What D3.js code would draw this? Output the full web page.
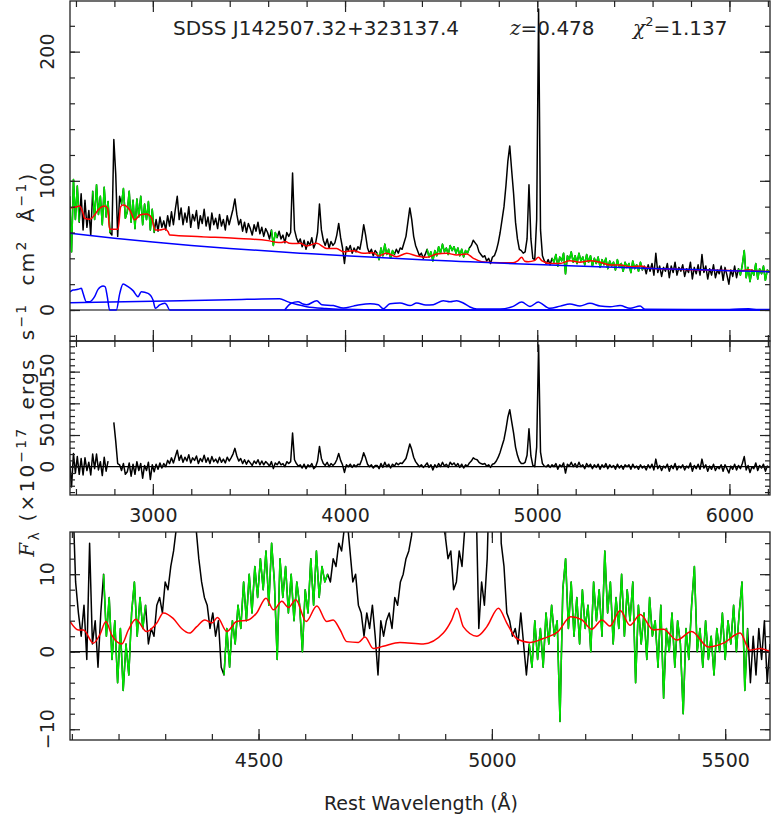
<!DOCTYPE html>
<html><head><meta charset="utf-8">
<script src="https://cdn.jsdelivr.net/npm/d3@7"></script>
<style>
body{margin:0;background:#fff}
svg{display:block}
text{font-family:"DejaVu Sans",sans-serif;fill:#222}
</style>
</head><body>
<svg id="c" width="774" height="817"></svg>
<script>
// ---------------- DATA ----------------
const objName = "SDSS J142507.32+323137.4";
const zText = "=0.478";
const chiText = "=1.137";

// observed spectrum (top panel), grid start / step in Angstrom
const specStart = 2567, specStep = 10;
const specFlux = [
88,45,101,70,96,68,90,62,85,64,
77,58,92,70,97,74,88,66,95,72,
84,60,58,132,105,57,88,82,94,71,
76,92,68,85,63,86,72,88,66,82,
70,84,62,78,60,70,61,72,64,69,
62,73,65,76,66,78,88,70,79,66,
75,68,80,64,74,69,77,63,73,67,
78,65,72,62,75,66,71,63,74,65,
70,62,73,66,72,78,86,74,66,70,
61,68,60,67,63,58,66,61,68,59,
64,57,63,60,55,62,50,60,56,61,
55,58,52,60,57,60,106,62,56,52,
55,49,54,47,53,50,56,48,52,60,
82,62,54,50,55,48,53,50,52,58,
67,56,48,36,49,46,50,44,48,45,
49,47,55,66,58,48,44,47,42,46,
44,39,48,42,51,43,47,40,46,43,
47,44,48,47,52,57,68,79,70,57,
50,46,42,44,40,43,47,41,45,38,
46,42,49,44,51,45,48,43,50,46,
49,44,48,42,47,41,46,44,48,50,
54,52,50,45,43,41,42,38,40,36,
41,42,46,52,60,70,80,96,115,127,
108,90,68,55,47,46,44,45,55,97,
55,40,39,70,233,62,42,38,36,39,
35,40,37,43,34,41,38,44,28,42,
39,45,37,42,36,44,38,41,35,43,
37,42,34,40,36,41,33,39,35,40,
32,38,34,37,31,39,33,36,30,37,
33,36,29,38,32,35,30,37,31,34,
28,35,30,36,27,44,29,34,26,33,
30,36,25,34,29,37,27,33,30,35,
26,32,29,37,24,33,28,35,27,43,
29,34,24,32,27,35,25,31,28,34,
23,33,27,20,31,26,34,25,32,27,
35,46,25,33,22,31,27,36,24,32,
28,34,23,31,29];

// emission-line residual (middle panel), same grid
const residFlux = [
8,-32,21,-10,16,-12,13,-13,14,-6,
7,-13,20,-3,20,-5,8,-14,15,-7,
9,null,null,70,40,5,3,-6,5,-12,
-8,6,-15,4,-12,8,-6,5,-18,2,
-6,7,-20,3,-8,4,-4,6,-2,5,
0,10,5,14,6,16,26,10,18,7,
15,9,19,6,14,10,17,5,13,8,
18,7,14,5,16,8,12,6,15,7,
12,6,15,9,14,20,29,17,9,13,
5,11,4,10,6,2,9,5,11,3,
9,3,8,5,1,8,-3,6,3,8,
3,5,0,8,5,8,53,11,5,1,
3,-2,4,-3,3,0,5,-3,0,9,
32,13,5,2,7,0,5,2,5,11,
21,10,3,-9,3,0,4,-1,3,0,
4,3,11,22,14,4,0,3,-2,2,
2,-3,5,-1,7,0,4,-2,4,1,
6,3,6,5,9,13,24,36,27,15,
8,4,0,3,-1,2,6,-1,3,-5,
3,-1,5,0,7,1,4,-1,7,3,
6,1,5,-1,4,-2,3,1,6,9,
14,12,11,7,5,4,5,1,3,-1,
4,5,9,15,23,33,43,59,78,90,
71,53,31,18,9,5,5,7,18,60,
17,2,0,31,192,23,5,1,0,3,
-1,3,0,5,-4,3,0,6,-10,4,
1,7,0,5,-1,7,0,3,-3,5,
0,4,-3,3,-1,4,-4,3,-1,5,
-3,3,-1,2,-4,4,-2,2,-4,3,
0,3,-4,4,-2,1,-4,3,-2,1,
-5,3,-2,4,-5,12,-3,2,-6,1,
-2,4,-7,2,-3,5,-5,1,-2,3,
-5,1,-2,6,-7,2,-3,4,-4,12,
-2,3,-7,1,-4,4,-6,0,-3,3,
-7,3,-3,-10,1,-4,4,-5,2,-3,
5,16,-5,2,-9,0,-3,6,-6,2,
-2,4,-7,1,-1];

// continuum-subtracted spectrum (bottom panel)
const zoomStart = 4096, zoomStep = 6;
const zoomFlux = [
18,20,9,5,2,6,-1,14,1,4,
-2,5,10,2,7,-1,4,-4,3,-5,
1,-3,5,9,2,7,3,6,1,3,
2,6,7,5,9,8,11,13,16,24,
36,39,30,24,19,16,12,9,7,6,
3,5,2,4,-2,-3,3,-2,4,1,
6,3,9,4,10,5,11,7,12,8,
13,6,14,9,-1,12,7,11,5,10,
4,9,6,0,8,5,12,6,13,7,
11,9,10,9,12,11,14,13,16,17,
13,9,10,6,5,2,5,3,6,2,
-3,4,2,4,5,3,7,6,9,10,
12,13,15,20,30,45,70,90,85,60,
45,30,22,17,15,12,13,8,9,13,
11,16,25,50,60,20,3,9,6,12,
25,120,190,40,14,11,5,4,2,3,
1,5,1,-3,1,-2,4,-1,3,-2,
5,1,6,2,4,-9,8,12,3,9,
2,7,1,8,3,6,0,9,4,8,
2,13,5,9,1,7,3,10,2,8,
4,9,-4,6,1,5,-1,7,2,4,
-2,6,-6,3,0,5,-2,4,1,-8,
3,-1,6,11,0,3,-2,4,-1,2,
-3,3,0,5,-1,4,1,6,0,5,
9,-5,3,-4,2,-3,3,-1,4,-4,
1];

// fitting windows (drawn in green)
const topWindows = [[2560,2620],[2685,2778],[2835,3008],[3615,3648],[4165,4261],[4423,4651],[5076,5551],[6038,6215]];
const zoomWindows = [[4165,4261],[4423,4651],[5076,5551]];

// total model (red, top)
const modelWave = [2569,2593,2619,2637,2645,2671,2697,2715,2749,2765,2775,2819,2833,2845,2880,2906,2932,2967,2992,3013,3036,3062,3079,3088,3252,3426,3599,3640,3668,3690,3710,3740,3766,3800,3853,3904,3956,3991,4043,4095,4147,4173,4216,4268,4321,4373,4425,4477,4529,4581,4633,4668,4711,4806,4875,4898,4919,4935,4953,4985,5006,5025,5066,5118,5170,5222,5274,5327,5379,5431,5483,5535,5587,5700,5800,5900,6000,6060,6100,6140,6211];
const modelFlux = [79,79.5,80.5,74.8,71,70.2,73.5,77.4,80.5,78.7,62.5,62.5,80,81.3,77.4,69.7,73.5,74.3,71.7,61.9,61.9,62.7,60.6,58,56.7,55.5,53.7,52.5,52.2,53,51.7,51.5,51.6,49.6,51.6,47.7,47.7,45.1,45.9,43.9,44.4,41.8,43.9,41.3,43.9,41.8,40.8,43.3,43.9,42.6,43.3,40,37.4,36.6,36.6,38,40.8,37.8,37.4,38.2,40.8,38,36,36,38.1,36.9,38.1,36.9,34.8,34.8,33.5,34,32.3,31.6,31.1,30.8,30.5,30.3,31.1,30.1,29.8];

// power-law continuum (blue)
const plWave = [2569,2800,3000,3200,3400,3600,3800,4000,4200,4400,4600,4800,5000,5200,5400,5600,5800,6000,6212];
const plFlux = [59.5,55.6,52.6,50.0,47.7,45.6,43.7,41.9,40.4,38.9,37.6,36.3,35.2,34.1,33.1,32.1,31.3,30.4,29.6];

// Balmer continuum (blue)
const balWave = [2569,3000,3400,3660,3700,3750,3800,3900,4000,4100,4200,6211];
const balFlux = [5.6,6.8,7.9,8.7,6.5,4.2,2.6,1.2,0.5,0.1,0,0];

// UV Fe II (blue)
const feUVWave = [2569,2585,2611,2628,2637,2654,2671,2697,2715,2741,2752,2763,2775,2810,2828,2845,2871,2897,2923,2940,2975,3001,3013,3036,3062,3070,3088,6211];
const feUVFlux = [14,15.5,16,16.8,12.9,6.4,6.4,10.3,16,18.6,18,10.3,0,0,12.9,20.1,18,15,10.3,14.2,12.9,7.7,1.3,3.9,5.2,4.5,0,0];

// optical Fe II (blue, top)
const feOptWave = [3686,3720,3755,3781,3800,3853,3879,3939,3991,4043,4078,4130,4173,4199,4234,4286,4338,4373,4420,4459,4511,4546,4581,4615,4650,4685,4806,4875,4919,4962,5006,5014,5066,5120,5170,5222,5274,5327,5379,5431,5483,5535,5561,5800,6000,6100,6150,6211];
const feOptFlux = [0,5.2,6.4,4.6,4.0,7.2,4.1,3.4,1.5,3,4.1,4.9,4.1,1.0,4.9,5.4,3.4,5.4,3.8,4.1,7.2,6.4,7.2,5.4,2.3,0.8,0.8,2.8,6.1,2.8,6.1,5.7,1.3,3,4.6,3.1,5.2,3.1,2.6,3.4,1.3,3.1,0.5,0.3,0.4,1.0,0.3,0.3];

// Fe II model (red, bottom)
const zFeWave = [4096,4114,4125,4146,4160,4173,4185,4207,4221,4237,4260,4282,4296,4317,4335,4352,4367,4385,4400,4412,4432,4453,4478,4496,4516,4532,4550,4564,4580,4602,4625,4646,4660,4675,4689,4714,4728,4746,4767,4803,4853,4896,4914,4925,4939,4968,4989,5014,5032,5053,5082,5110,5142,5169,5193,5214,5236,5253,5275,5296,5318,5346,5368,5396,5428,5464,5496,5532,5553,5575,5596];
const zFeFlux = [3.9,2.8,2.8,1.1,2.2,3.9,2.2,1.0,2.8,4.2,2.6,3.7,5.0,4.3,3.0,2.4,3.2,4.1,3.7,4.4,2.6,3.9,4.1,5.0,6.9,5.4,6.5,5.7,6.7,3.9,5.9,3.9,4.1,2.8,1.3,1.2,1.9,0.4,0.7,1.2,1.0,2.4,4.1,5.6,3.2,2.0,3.2,5.6,3.7,1.7,1.2,1.7,2.6,4.5,4.1,2.9,4.1,3.3,5.3,3.4,4.8,2.8,2.9,1.5,2.6,0.6,1.1,2.4,0.2,0.4,0];

// ticks
const wideMajor = [3000,4000,5000,6000];
const zoomMajor = [4500,5000,5500];
const topYMajor = [0,100,200];
const midYMajor = [0,50,100,150];
const botYMajor = [-10,0,10];

// ---------------- DRAW ----------------
const svg = d3.select("#c");
const L = 70, R = 770;
const P1 = {t:1, b:341}, P2 = {t:341, b:495}, P3 = {t:532, b:740};
const xW = d3.scaleLinear([2569, 6211], [L, R]);
const xZ = d3.scaleLinear([4096, 5596], [L, R]);
const y1 = d3.scaleLinear([-24, 239.2], [P1.b, P1.t]);
const y2 = d3.scaleLinear([-44.6, 198.3], [P2.b, P2.t]);
const y3 = d3.scaleLinear([-11.39, 15.44], [P3.b, P3.t]);

const defs = svg.append("defs");
function clip(id, p){
  defs.append("clipPath").attr("id", id).append("rect")
    .attr("x", L).attr("y", p.t).attr("width", R-L).attr("height", p.b-p.t);
  return "url(#" + id + ")";
}
const c1 = clip("c1", P1), c2 = clip("c2", P2), c3 = clip("c3", P3);

const toPts = (ws, vs) => ws.map((w,i)=>({w, v: vs[i]}));
const gridPts = (start, step, vs) => vs.map((v,i)=>({w: start + i*step, v}));
const inWin = (wins, w) => wins.some(r => w >= r[0] && w <= r[1]);

function drawLine(g, pts, xs, ys, color, width, defined, smooth){
  const ln = d3.line().x(d=>xs(d.w)).y(d=>ys(d.v))
    .defined(d => d.v !== null && (!defined || defined(d)));
  if (smooth) ln.curve(d3.curveMonotoneX);
  g.append("path").attr("d", ln(pts)).attr("fill","none")
    .attr("stroke", color).attr("stroke-width", width).attr("stroke-linejoin","round");
}

const GREEN = "#00e400", RED = "#ff0000", BLUE = "#0000ff";

// ---- Panel 1 ----
const g1 = svg.append("g").attr("clip-path", c1);
const specPts = gridPts(specStart, specStep, specFlux);
drawLine(g1, [{w:2569,v:0},{w:6211,v:0}], xW, y1, "#000", 1.2);
drawLine(g1, toPts(balWave, balFlux), xW, y1, BLUE, 1.5, null, true);
drawLine(g1, toPts(feUVWave, feUVFlux), xW, y1, BLUE, 1.5, null, true);
drawLine(g1, toPts(feOptWave, feOptFlux), xW, y1, BLUE, 1.5, null, true);
drawLine(g1, specPts, xW, y1, "#000", 1.5);
drawLine(g1, specPts, xW, y1, GREEN, 1.5, d => inWin(topWindows, d.w));
drawLine(g1, toPts(modelWave, modelFlux), xW, y1, RED, 1.5, null, true);
drawLine(g1, toPts(plWave, plFlux), xW, y1, BLUE, 1.5, null, true);

// ---- Panel 2 ----
const g2 = svg.append("g").attr("clip-path", c2);
drawLine(g2, [{w:2569,v:0},{w:6211,v:0}], xW, y2, "#000", 1.2);
drawLine(g2, gridPts(specStart, specStep, residFlux), xW, y2, "#000", 1.5);

// ---- Panel 3 ----
const g3 = svg.append("g").attr("clip-path", c3);
const zPts = gridPts(zoomStart, zoomStep, zoomFlux);
drawLine(g3, [{w:4096,v:0},{w:5596,v:0}], xZ, y3, "#000", 1.2);
drawLine(g3, zPts, xZ, y3, "#000", 1.5);
drawLine(g3, zPts, xZ, y3, GREEN, 1.5, d => inWin(zoomWindows, d.w));
drawLine(g3, toPts(zFeWave, zFeFlux), xZ, y3, RED, 1.5, null, true);

// ---- frames & ticks ----
const AX = "#222";
function styleAxis(g){
  g.select(".domain").remove();
  g.selectAll("line").attr("stroke", AX).attr("stroke-width", 1.2);
}
function ticks(axisFn, scale, vals, len, tr){
  const g = svg.append("g").attr("transform", tr)
    .call(axisFn(scale).tickValues(vals).tickSize(len).tickSizeOuter(0).tickFormat(""));
  styleAxis(g);
}
function panelTicks(p, xs, xMaj, xMin, ys, yMaj, yMin){
  ticks(d3.axisTop, xs, xMaj, -11, `translate(0,${p.t})`);
  ticks(d3.axisTop, xs, xMin, -6, `translate(0,${p.t})`);
  ticks(d3.axisBottom, xs, xMaj, -11, `translate(0,${p.b})`);
  ticks(d3.axisBottom, xs, xMin, -6, `translate(0,${p.b})`);
  ticks(d3.axisLeft, ys, yMaj, -10, `translate(${L},0)`);
  ticks(d3.axisLeft, ys, yMin, -5, `translate(${L},0)`);
  ticks(d3.axisRight, ys, yMaj, -10, `translate(${R},0)`);
  ticks(d3.axisRight, ys, yMin, -5, `translate(${R},0)`);
  svg.append("rect").attr("x", L).attr("y", p.t).attr("width", R-L).attr("height", p.b-p.t)
    .attr("fill","none").attr("stroke", AX).attr("stroke-width", 1.3);
}
const wideMinor = d3.range(2600, 6201, 200);
const zoomMinor = d3.range(4100, 5501, 100);
panelTicks(P1, xW, wideMajor, wideMinor, y1, topYMajor, d3.range(-20, 239, 20));
panelTicks(P2, xW, wideMajor, wideMinor, y2, midYMajor, d3.range(-40, 198, 10));
panelTicks(P3, xZ, zoomMajor, zoomMinor, y3, botYMajor, d3.range(-10, 15.4, 2));

// x tick labels
function xLabels(scale, vals, y){
  const g = svg.append("g").attr("transform", `translate(0,${y})`)
    .call(d3.axisBottom(scale).tickValues(vals).tickSize(0).tickPadding(14).tickFormat(d3.format("d")));
  g.select(".domain").remove();
  g.attr("font-size", null).attr("font-family", null);
  g.selectAll("text").attr("font-size", 19);
}
xLabels(xW, wideMajor, P2.b);
xLabels(xZ, zoomMajor, P3.b - 0.5);

// y tick labels (rotated)
function yLabels(scale, vals){
  svg.append("g").selectAll("text").data(vals).join("text")
    .attr("transform", d => `translate(54,${scale(d)}) rotate(-90)`)
    .attr("text-anchor", "middle").attr("font-size", 19)
    .text(d => d < 0 ? "\u2212" + Math.abs(d) : d);
}
yLabels(y1, topYMajor);
yLabels(y2, midYMajor);
yLabels(y3, botYMajor);

// title
svg.append("text").attr("x", 173).attr("y", 35).attr("font-size", 20).text(objName);
const tz = svg.append("text").attr("x", 510).attr("y", 35).attr("font-size", 20);
tz.append("tspan").attr("font-family", "DejaVu Serif").attr("font-style", "italic").text("z");
tz.append("tspan").text(zText);
const tc = svg.append("text").attr("x", 633).attr("y", 35).attr("font-size", 20);
tc.append("tspan").attr("font-family", "DejaVu Serif").attr("font-style", "italic").text("\u03c7");
tc.append("tspan").attr("font-size", 13).attr("dy", -9).text("2");
tc.append("tspan").attr("dy", 9).text(chiText);

// x axis title
svg.append("text").attr("x", 421).attr("y", 810).attr("text-anchor", "middle")
  .attr("font-size", 19).text("Rest Wavelength (\u00c5)");

// y axis title
const yt = svg.append("text").attr("transform", "translate(34,364) rotate(-90)")
  .attr("text-anchor", "middle").attr("font-size", 20).attr("letter-spacing", 2.2);
const parts = [
  ["F", 0, {"font-family":"DejaVu Serif","font-style":"italic"}],
  ["\u03bb", 5, {"font-size":14}],
  ["\u00a0(\u00d710", -5, {}],
  ["\u221217", -8, {"font-size":14}],
  ["\u00a0\u00a0ergs\u00a0\u00a0s", 8, {}],
  ["\u22121", -8, {"font-size":14}],
  ["\u00a0\u00a0cm", 8, {}],
  ["2", -8, {"font-size":14}],
  ["\u00a0\u00a0\u00c5", 8, {}],
  ["\u22121", -8, {"font-size":14}],
  [")", 8, {}]
];
parts.forEach(([t, dy, at]) => {
  const s = yt.append("tspan").attr("dy", dy).text(t);
  Object.entries(at).forEach(([k,v]) => s.attr(k, v));
});
</script>
</body></html>
